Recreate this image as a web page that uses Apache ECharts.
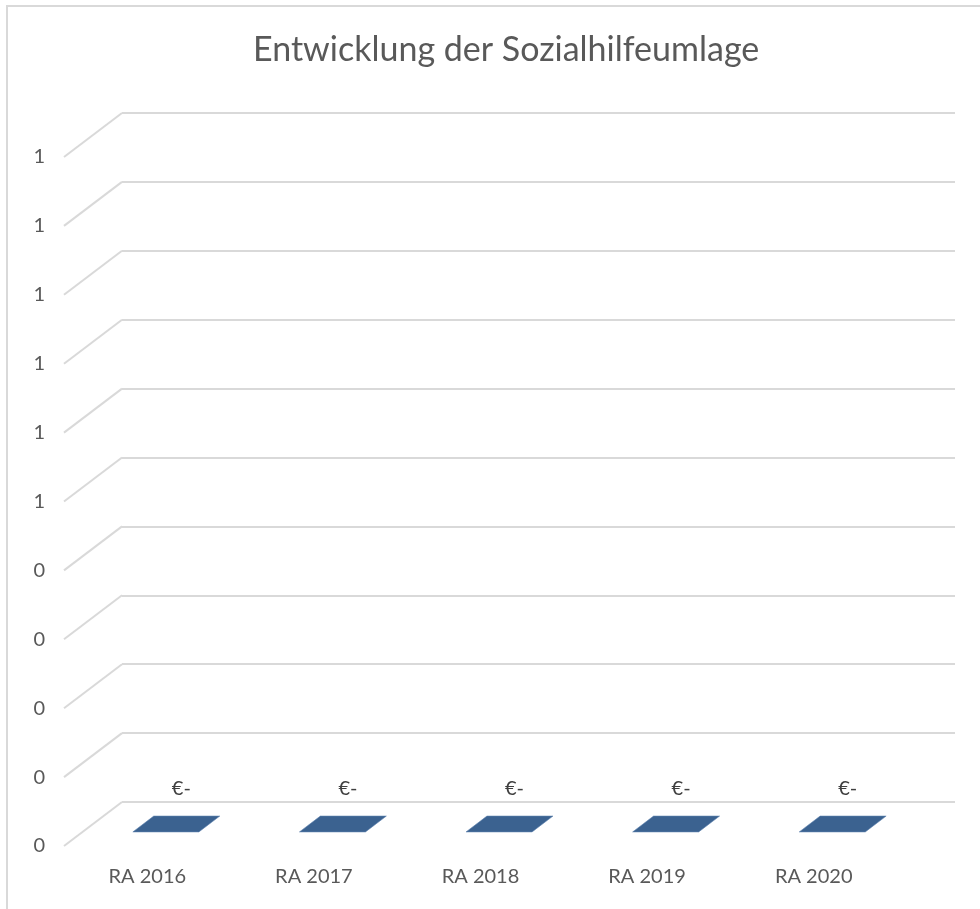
<!DOCTYPE html>
<html>
<head>
<meta charset="utf-8">
<script src="https://cdn.jsdelivr.net/npm/echarts@6/dist/echarts.min.js"></script>
<style>html,body{margin:0;padding:0;background:#fff;}#c{width:980px;height:909px;}</style>
</head>
<body>
<div id="c"></div>
<script>
const titleText = 'Entwicklung der Sozialhilfeumlage';
const categories = ['RA 2016', 'RA 2017', 'RA 2018', 'RA 2019', 'RA 2020'];
const values = [0, 0, 0, 0, 0];
const valueLabels = ['€-', '€-', '€-', '€-', '€-'];
const yTicks = [0, 0.1, 0.2, 0.3, 0.4, 0.5, 0.6, 0.7, 0.8, 0.9, 1.0];
const yTickLabels = ['0', '0', '0', '0', '0', '1', '1', '1', '1', '1', '1'];

const DX = -58, DY = 44;           // depth offset back -> front (pixels)
const T0 = 0.32, T1 = 0.68;        // bar depth range (fraction)
const BAR_W = 66;
const FONT = 'Lato, "Open Sans", sans-serif';

const chart = echarts.init(document.getElementById('c'), null, {renderer: 'canvas'});

chart.setOption({
  backgroundColor: '#ffffff',
  animation: false,
  title: {
    text: titleText,
    left: 248, top: 28,
    textStyle: {fontFamily: FONT, fontWeight: 'normal', fontSize: 34, color: '#595959'}
  },
  graphic: [{
    type: 'rect', shape: {x: 7, y: 6, width: 990, height: 920},
    style: {fill: 'none', stroke: '#d9d9d9', lineWidth: 2}, silent: true, z: 0
  }],
  grid: [
    {left: 122, right: 25, top: 113, bottom: 107},
    {left: 64, right: 83, top: 157, bottom: 63}
  ],
  xAxis: [
    {gridIndex: 0, type: 'category', data: categories, axisLine: {show: false}, axisTick: {show: false}, axisLabel: {show: false}},
    {gridIndex: 1, type: 'category', data: categories, axisLine: {show: false}, axisTick: {show: false},
     axisLabel: {margin: 21, fontFamily: FONT, fontSize: 20, color: '#595959'}}
  ],
  yAxis: [
    {gridIndex: 0, type: 'value', min: 0, max: 1, interval: 0.1, axisLine: {show: false}, axisTick: {show: false},
     axisLabel: {show: false}, splitLine: {show: true, lineStyle: {color: '#d9d9d9', width: 2}}},
    {gridIndex: 1, type: 'value', min: 0, max: 1, interval: 0.1, axisLine: {show: false}, axisTick: {show: false},
     splitLine: {show: false},
     axisLabel: {margin: 19, fontFamily: FONT, fontSize: 20, color: '#595959',
       formatter: (v, i) => yTickLabels[i]}}
  ],
  series: [
    {
      type: 'custom', xAxisIndex: 0, yAxisIndex: 0, silent: true,
      data: yTicks.map(v => [0, v]),
      renderItem: (params, api) => {
        const p = api.coord([0, api.value(1)]);
        const x0 = params.coordSys.x;
        return {type: 'line', shape: {x1: x0, y1: p[1], x2: x0 + DX, y2: p[1] + DY},
                style: {stroke: '#d9d9d9', lineWidth: 2}};
      }
    },
    {
      type: 'custom', xAxisIndex: 0, yAxisIndex: 0, silent: true, z: 3,
      data: values.map((v, i) => [i, v]),
      renderItem: (params, api) => {
        const i = api.value(0);
        const top = api.coord([i, api.value(1)]);
        const base = api.coord([i, 0]);
        const h = base[1] - top[1];
        const cx = top[0];
        const bx = cx + T0 * DX, by = top[1] + T0 * DY;   // back edge center (top)
        const fx = cx + T1 * DX, fy = top[1] + T1 * DY;   // front edge center (top)
        const hw = BAR_W / 2;
        const children = [];
        if (h > 0.5) {
          children.push({type: 'polygon', shape: {points: [[fx - hw, fy], [fx + hw, fy], [fx + hw, fy + h], [fx - hw, fy + h]]},
            style: {fill: '#2f5588'}});
          children.push({type: 'polygon', shape: {points: [[fx + hw, fy], [bx + hw, by], [bx + hw, by + h], [fx + hw, fy + h]]},
            style: {fill: '#26466f'}});
        }
        children.push({type: 'polygon', shape: {points: [[fx - hw, fy], [fx + hw, fy], [bx + hw, by], [bx - hw, by]]},
          style: {fill: '#3b6290', stroke: '#5a80ad', lineWidth: 0.6}});
        children.push({type: 'text', x: (fx + bx) / 2 + 5, y: Math.min(fy, by) - 28,
          style: {text: valueLabels[i], fontFamily: FONT, fontSize: 20, fill: '#404040', align: 'center', verticalAlign: 'middle'}});
        return {type: 'group', children};
      }
    }
  ]
});
</script>
</body>
</html>
